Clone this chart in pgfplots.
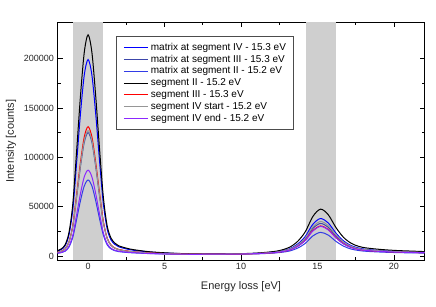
\documentclass[border=0pt]{standalone}
\usepackage{pgfplots}
\usepackage{pgfplotstable}
\usepackage{fontspec}
\setmainfont{Liberation Sans}
\pgfplotsset{compat=1.18}
\definecolor{cmIV}{RGB}{0,0,255}
\definecolor{cmIII}{RGB}{60,70,170}
\definecolor{cmII}{RGB}{50,60,230}
\definecolor{csIII}{RGB}{255,0,0}
\definecolor{csIVs}{RGB}{150,150,150}
\definecolor{csIVe}{RGB}{140,40,255}
\definecolor{band}{RGB}{207,207,207}
\pgfplotstableread{
x mIV mIII mII sII sIII sIVs sIVe
-2 5100 3700 2900 5500 3800 3800 3000
-1.75 6600 4700 3500 7300 4900 4800 3700
-1.5 10400 7100 4900 11500 7300 7100 5300
-1.25 21300 13900 9100 23800 14500 14100 10100
-1 46900 29900 18900 52700 31300 30400 21200
-0.75 94300 59500 37000 106100 62400 60500 41700
-0.5 143700 90400 55900 161700 94700 91900 63100
-0.25 183200 115100 71000 206200 120600 117000 80200
0 199000 125000 77000 224000 131000 127000 87000
0.25 183200 115100 71000 206200 120600 117000 80200
0.5 143700 90400 55900 161700 94700 91900 63100
0.75 96300 60800 37700 108300 63700 61700 42500
1 52900 33600 21100 59400 35200 34100 23700
1.25 27200 17600 11300 30400 18300 17800 12600
1.5 16300 10800 7200 18200 11200 10900 7900
1.75 11800 7900 5400 13100 8200 8000 5900
2 9400 6400 4500 10400 6700 6500 4900
2.5 7200 5100 3700 8000 5300 5100 4000
3 5800 4200 3200 6400 4300 4300 3400
4 4100 3100 2500 4400 3200 3100 2600
5 3100 2500 2100 3300 2500 2500 2200
6 2500 2100 1900 2600 2100 2100 1900
7 2100 1900 1700 2200 1900 1900 1800
8.2 2100 1900 1800 2200 1900 2000 1900
9.2 2200 2000 1900 2300 2000 2100 2000
10.2 2300 2200 2000 2500 2100 2200 2100
11.2 2900 2700 2300 3200 2600 2700 2600
12.2 4100 3700 3100 4700 3500 3800 3500
12.7 5300 4800 3900 6300 4500 5000 4500
13.2 7500 6700 5200 9100 6300 7000 6200
13.7 12100 10600 8000 14800 9900 11200 9800
14.2 19800 17300 12800 24500 16000 18300 15800
14.7 32200 28000 20400 40100 25900 29600 25400
15.2 38000 33000 24000 47500 30500 35000 30000
15.7 33600 29200 21300 42000 27000 31000 26600
16.2 23400 20400 15000 29100 18900 21600 18600
16.7 15400 13500 10100 19000 12500 14200 12300
17.2 10600 9400 7100 13000 8800 9900 8600
17.7 8100 7200 5600 9800 6700 7500 6600
18.2 6800 6100 4800 8200 5700 6400 5600
19.2 5500 5000 4000 6600 4700 5200 4600
20.2 4800 4300 3500 5600 4100 4500 4000
21.2 4200 3900 3200 5000 3700 4000 3600
22 3900 3500 3000 4500 3400 3700 3400
}\datatable
\begin{document}
\begin{tikzpicture}
\useasboundingbox (-57.5pt,-46pt) rectangle (378.5pt,260pt);
\begin{axis}[
  scale only axis,
  width=367pt, height=238pt,
  xmin=-2, xmax=22, ymin=-4000, ymax=237000,
  xtick={0,5,10,15,20},
  ytick={0,50000,100000,150000,200000},
  minor tick num=1,
  tick align=inside,
  major tick length=5pt, minor tick length=3pt,
  axis line style={line width=0.8pt},
  every tick/.style={black, line width=0.6pt},
  scaled y ticks=false,
  /pgf/number format/assume math mode=true,
  y tick label style={/pgf/number format/fixed, /pgf/number format/1000 sep={}},
  tick label style={font=\fontsize{9}{10}\selectfont, text=black!85},
  label style={font=\fontsize{11}{12}\selectfont, text=black!85},
  xlabel={Energy loss [eV]},
  ylabel={Intensity [counts]},
  xlabel style={at={(axis description cs:0.5,-0.1122)}, anchor=center},
  ylabel style={at={(axis description cs:-0.1267,0.5)}, anchor=center},
  legend cell align=left,
  legend style={at={(58.5pt,224pt)}, anchor=north west,
    draw=black!70, line width=0.6pt, fill=white,
    inner xsep=7pt, inner ysep=6pt,
    font=\fontsize{10}{11}\selectfont,
    nodes={inner sep=0.6pt, text height=7.4pt, text depth=2pt},
    row sep=1.2pt,
    /tikz/every even column/.append style={column sep=0pt},
    /tikz/every odd column/.append style={column sep=2pt}},
  legend image code/.code={\draw[#1, line width=1pt] (0pt,0pt) -- (24pt,0pt);},
  every axis plot/.append style={line width=1pt},
]
\addplot[fill=band, draw=none, forget plot] coordinates {(-1,-4000) (1,-4000) (1,237000) (-1,237000)} -- cycle;
\addplot[fill=band, draw=none, forget plot] coordinates {(14.25,-4000) (16.2,-4000) (16.2,237000) (14.25,237000)} -- cycle;
\addplot[cmIV, smooth, tension=0.5] table[x=x, y=mIV] {\datatable};
\addlegendentry{matrix at segment IV - 15.3 eV}
\addplot[cmIII, smooth, tension=0.5] table[x=x, y=mIII] {\datatable};
\addlegendentry{matrix at segment III - 15.3 eV}
\addplot[cmII, smooth, tension=0.5] table[x=x, y=mII] {\datatable};
\addlegendentry{matrix at segment II - 15.2 eV}
\addplot[black, smooth, tension=0.5] table[x=x, y=sII] {\datatable};
\addlegendentry{segment II - 15.2 eV}
\addplot[csIII, smooth, tension=0.5] table[x=x, y=sIII] {\datatable};
\addlegendentry{segment III -  15.3 eV}
\addplot[csIVs, smooth, tension=0.5] table[x=x, y=sIVs] {\datatable};
\addlegendentry{segment IV start - 15.2 eV}
\addplot[csIVe, smooth, tension=0.5] table[x=x, y=sIVe] {\datatable};
\addlegendentry{segment IV end - 15.2 eV}
\end{axis}
\end{tikzpicture}
\end{document}
